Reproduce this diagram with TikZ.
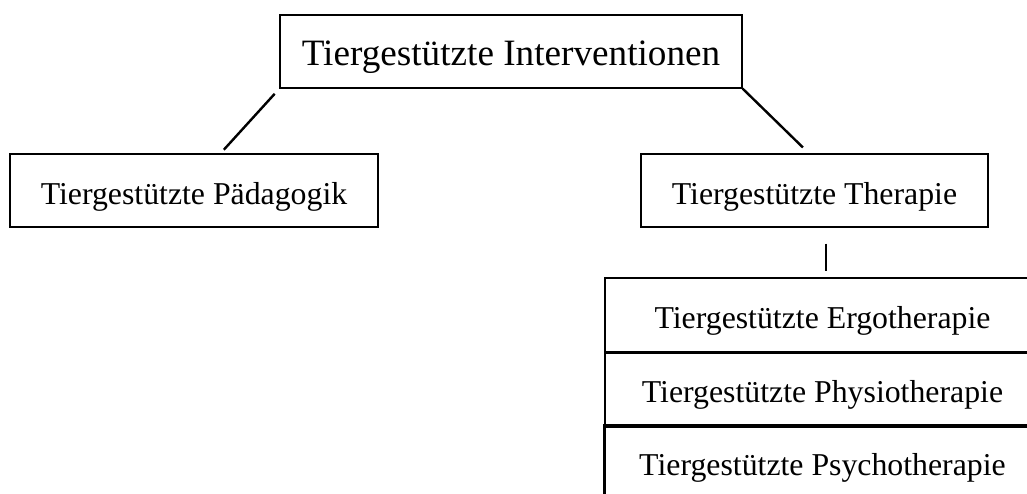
\documentclass[tikz,border=0pt]{standalone}
\usepackage{fontspec}
\setmainfont{Liberation Serif}
\usetikzlibrary{positioning}

\begin{document}
\begin{tikzpicture}[
		x=1pt,y=-1pt,
		every node/.style={
			font=\fontsize{31.8}{38}\selectfont,
			align=center,
			inner sep=0pt,
			text height=27pt,
			text depth=0pt
		},
		box/.style={draw,line width=1.2pt},
		link/.style={line width=2.4pt}
		]
		
		\useasboundingbox (0,0) rectangle (1027,493);
		
		%--------------------------------------------------
		% Boxes
		%--------------------------------------------------
		
		\node (top) [box,minimum width=462pt,minimum height=73pt,
			font=\fontsize{37.2}{44}\selectfont,text height=28.5pt] at (511,51.5)
			{Tiergestützte Interventionen};
		\node (paed) [box,minimum width=368pt,minimum height=73pt] at (194,190.5)
			{Tiergestützte Pädagogik};
		\node (ther) [box,minimum width=347pt,minimum height=73pt] at (814.5,190.5)
			{Tiergestützte Therapie};
		
		\node (ergo) [box,minimum width=435pt,minimum height=74pt] at (822.5,315)
			{Tiergestützte Ergotherapie};
		\node (physio) [box,minimum width=435pt,minimum height=72pt,below=0pt of ergo]
			{Tiergestützte Physiotherapie};
		\node (psycho) [box,minimum width=435pt,minimum height=72pt,below=0pt of physio]
			{Tiergestützte Psychotherapie};
		\draw[line width=3.5pt] (psycho.south west) -- (psycho.north west) -- (psycho.north east);
		
		%--------------------------------------------------
		% Links
		%--------------------------------------------------
		
		\draw[link,shorten <=7pt,shorten >=5pt] (top.south west) -- ([xshift=26.5pt]paed.north);
		\draw[link,shorten >=8.5pt] (top.south east) -- ([xshift=-5.5pt]ther.north);
		\draw[link,shorten <=16pt,shorten >=6pt]
			([xshift=11.5pt]ther.south) -- ([xshift=11.5pt]ther.south |- ergo.north);
		
	\end{tikzpicture}
\end{document}
